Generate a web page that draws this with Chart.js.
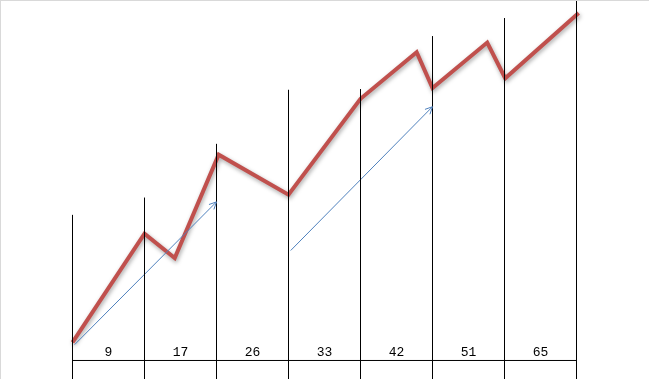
<!DOCTYPE html>
<html>
<head>
<title>Line chart</title>
<script src="https://cdn.jsdelivr.net/npm/chart.js"></script>
<style>
  body { margin: 0; background: #fff; }
  canvas { display: block; }
</style>
</head>
<body>

<canvas id="myChart" width="649" height="379"></canvas>

<script>
  // section labels between the vertical lines
  const categories = ['9', '17', '26', '33', '42', '51', '65'];
  // vertical dividers: x position and height of top end
  const dividerX = [0, 1, 2, 3, 4, 5, 6, 7];
  const dividerTop = [40.4, 45.2, 60.1, 75.1, 75.3, 90.0, 95.0, 100];
  const dividerBottom = -6;
  const labelY = 2.2;
  // red series
  const seriesX = [0, 1, 1.42, 2.03, 3, 4, 4.78, 5, 5.76, 6.01, 7.03];
  const seriesY = [5.0, 35.2, 28.4, 57.1, 46.0, 72.6, 85.5, 75.6, 88.2, 78.3, 96.4];
  // blue arrows: [x0, y0, x1, y1]
  const arrows = [
    [0.03, 4.4, 2.0, 44.0],
    [3.03, 30.5, 5.0, 70.4]
  ];

  const datasets = [];

  dividerX.forEach((x, i) => {
    datasets.push({
      data: [{ x: x, y: dividerBottom }, { x: x, y: dividerTop[i] }],
      borderColor: '#000', borderWidth: 1, clip: false
    });
  });

  datasets.push({
    data: [{ x: dividerX[0], y: 0 }, { x: dividerX[dividerX.length - 1], y: 0 }],
    borderColor: '#000', borderWidth: 1, clip: false
  });

  arrows.forEach(a => {
    datasets.push({
      data: [{ x: a[0], y: a[1] }, { x: a[2], y: a[3] }],
      borderColor: '#4f81bd', borderWidth: 1, clip: false
    });
  });

  datasets.push({
    shadow: true,
    data: seriesX.map((x, i) => ({ x: x, y: seriesY[i] })),
    borderColor: '#c0504d', borderWidth: 4, borderJoinStyle: 'miter', clip: false
  });

  const extras = {
    id: 'extras',
    beforeDatasetDraw(chart, args) {
      if (args.meta._dataset.shadow) {
        const c = chart.ctx;
        c.save();
        c.shadowColor = 'rgba(0,0,0,0.35)';
        c.shadowBlur = 4;
        c.shadowOffsetX = 1;
        c.shadowOffsetY = 2;
      }
    },
    afterDatasetDraw(chart, args) {
      if (args.meta._dataset.shadow) chart.ctx.restore();
    },
    afterDraw(chart) {
      const c = chart.ctx;
      const xs = chart.scales.x, ys = chart.scales.y;
      c.save();
      // arrowheads
      c.strokeStyle = '#4f81bd';
      c.lineWidth = 1;
      arrows.forEach(a => {
        const x0 = xs.getPixelForValue(a[0]), y0 = ys.getPixelForValue(a[1]);
        const x1 = xs.getPixelForValue(a[2]), y1 = ys.getPixelForValue(a[3]);
        const ang = Math.atan2(y1 - y0, x1 - x0);
        const len = 8, spread = 0.45;
        c.beginPath();
        c.moveTo(x1 - len * Math.cos(ang - spread), y1 - len * Math.sin(ang - spread));
        c.lineTo(x1, y1);
        c.lineTo(x1 - len * Math.cos(ang + spread), y1 - len * Math.sin(ang + spread));
        c.stroke();
      });
      // section labels
      c.fillStyle = '#000';
      c.font = '13px "Liberation Mono", monospace';
      c.textAlign = 'center';
      c.textBaseline = 'middle';
      categories.forEach((t, i) => {
        c.fillText(t, xs.getPixelForValue(i + 0.5), ys.getPixelForValue(labelY));
      });
      // frame edge
      c.fillStyle = '#d9d9d9';
      c.fillRect(0, 0, chart.width, 1);
      c.fillRect(0, 0, 1, chart.height);
      c.restore();
    }
  };

  const ctx = document.getElementById('myChart').getContext('2d');
  const myChart = new Chart(ctx, {
    type: 'line',
    data: { datasets: datasets },
    options: {
      responsive: false,
      animation: false,
      devicePixelRatio: 1,
      layout: { padding: { left: 72.5, right: 72.5, top: 0, bottom: 0.5 } },
      elements: { point: { radius: 0, hoverRadius: 0 }, line: { tension: 0 } },
      scales: {
        x: { type: 'linear', min: 0, max: 7, display: false },
        y: { min: -5, max: 100, display: false }
      },
      plugins: { legend: { display: false }, tooltip: { enabled: false } }
    },
    plugins: [extras]
  });
</script>

</body>
</html>
